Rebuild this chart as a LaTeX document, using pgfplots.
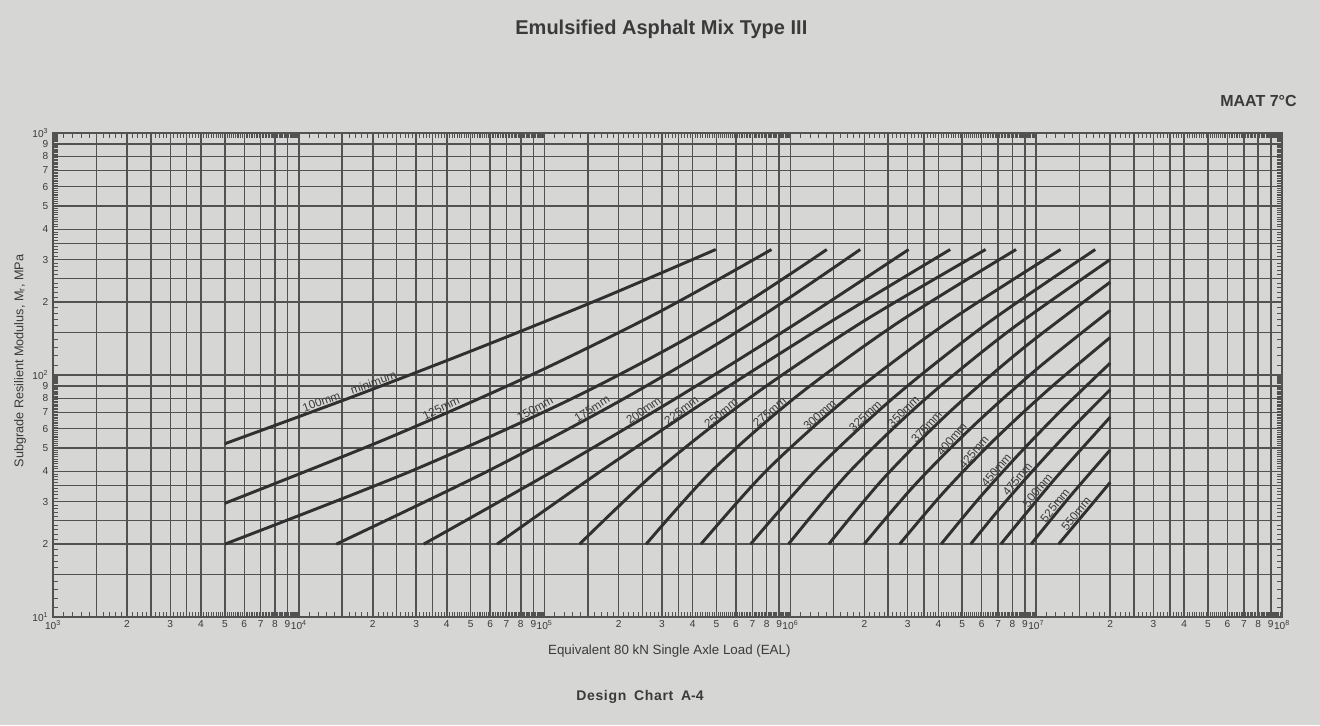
\documentclass[border=0pt]{standalone}
\usepackage{fontspec}
\setmainfont{Liberation Sans}
\usepackage{pgfplots}
\pgfplotsset{compat=1.18}
\definecolor{bg}{RGB}{214,214,212}
\definecolor{ink}{RGB}{58,58,58}
\definecolor{gridc}{RGB}{82,82,82}
\definecolor{curvec}{RGB}{48,48,48}
\tikzset{lab/.style={font=\fontsize{8.8}{9}\selectfont, text=ink, inner sep=1.2pt, anchor=south}}

\def\minorxlist{1e3}
\foreach \k in {2,...,6}{\foreach \m in {11,...,99}{\xdef\minorxlist{\minorxlist,\m e\k}}}
\def\minorylist{10}
\foreach \k in {0,1}{\foreach \m in {11,...,99}{\xdef\minorylist{\minorylist,\m e\k}}}

\begin{document}
\begin{tikzpicture}
\fill[bg] (0,0) rectangle (990pt,543.75pt);
\useasboundingbox (0,0) rectangle (990pt,543.75pt);
\begin{axis}[
  at={(39.75pt,81pt)}, anchor=south west,
  scale only axis, width=921.75pt, height=363pt,
  xmode=log, ymode=log,
  xmin=1e3, xmax=1e8, ymin=10, ymax=1000,
  xtick={1e3,1.5e3,2e3,2.5e3,3e3,3.5e3,4e3,5e3,6e3,7e3,8e3,9e3,
         1e4,1.5e4,2e4,2.5e4,3e4,3.5e4,4e4,5e4,6e4,7e4,8e4,9e4,
         1e5,1.5e5,2e5,2.5e5,3e5,3.5e5,4e5,5e5,6e5,7e5,8e5,9e5,
         1e6,1.5e6,2e6,2.5e6,3e6,3.5e6,4e6,5e6,6e6,7e6,8e6,9e6,
         1e7,1.5e7,2e7,2.5e7,3e7,3.5e7,4e7,5e7,6e7,7e7,8e7,9e7,1e8},
  xticklabels={10\textsuperscript{3},{},2,{},3,{},4,5,6,7,8,9,
               10\textsuperscript{4},{},2,{},3,{},4,5,6,7,8,9,
               10\textsuperscript{5},{},2,{},3,{},4,5,6,7,8,9,
               10\textsuperscript{6},{},2,{},3,{},4,5,6,7,8,9,
               10\textsuperscript{7},{},2,{},3,{},4,5,6,7,8,9,10\textsuperscript{8}},
  ytick={10,15,20,25,30,35,40,50,60,70,80,90,
         100,150,200,250,300,350,400,500,600,700,800,900,1000},
  yticklabels={10\textsuperscript{1},{},2,{},3,{},4,5,6,7,8,9,
               10\textsuperscript{2},{},2,{},3,{},4,5,6,7,8,9,10\textsuperscript{3}},
  minor xtick/.expanded=\minorxlist,
  minor ytick/.expanded=\minorylist,
  xmajorgrids, ymajorgrids,
  major grid style={draw=gridc, line width=1.15pt},
  tick align=inside,
  major tick length=0pt, minor tick length=4pt,
  minor tick style={draw=gridc, line width=0.5pt},
  axis line style={draw=gridc, line width=1.5pt},
  tick label style={font=\fontsize{7.6}{8}\selectfont, text=ink},
  xticklabel style={yshift=1pt},
  curve/.style={draw=curvec, line width=2.2pt, smooth},
]
% 100mm minimum
\addplot[curve] coordinates {(5000,52) (17210,82.5) (55890,131.1) (171500,207.9) (496600,330)};
% 125mm
\addplot[curve] coordinates {(5000,29.5) (22230,54.0) (85770,98.7) (287500,180.5) (837500,330)};
% 150mm
\addplot[curve] coordinates {(5000,20) (29020,40.3) (133500,81.2) (486700,163.8) (1406000,330)};
% 175mm
\addplot[curve] coordinates {(14200,20) (59390,40.3) (216600,81.2) (690600,163.8) (1923000,330)};
% 200mm
\addplot[curve] coordinates {(32200,20) (109200,40.3) (349900,81.2) (1059000,163.8) (3027000,330)};
% 225mm
\addplot[curve] coordinates {(64000,20) (170800,40.3) (480700,81.2) (1427000,163.8) (4467000,330)};
% 250mm
\addplot[curve] coordinates {(138700,20) (287700,40.3) (691800,81.2) (1928000,163.8) (6223000,330)};
% 275mm
\addplot[curve] coordinates {(258800,20) (480800,40.3) (1053000,81.2) (2720000,163.8) (8279000,330)};
% 300mm
\addplot[curve] coordinates {(432500,20) (799800,40.3) (1721000,81.2) (4310000,163.8) (12560000,330)};
% 325mm
\addplot[curve] coordinates {(688700,20) (1264000,40.3) (2651000,81.2) (6349000,163.8) (17380000,330)};
% 350mm
\addplot[curve] coordinates {(981700,20) (1721000,39.4) (3430000,77.4) (7768000,152.4) (20000000,300)};
% 375mm
\addplot[curve] coordinates {(1432000,20) (2387000,37.3) (4391000,69.6) (8918000,129.8) (20000000,242)};
% 400mm
\addplot[curve] coordinates {(1995000,20) (3186000,34.9) (5470000,60.8) (10090000,106.1) (20000000,185)};
% 425mm
\addplot[curve] coordinates {(2780000,20) (4196000,32.7) (6690000,53.5) (11260000,87.4) (20000000,143)};
% 450mm
\addplot[curve] coordinates {(4102000,20) (5831000,30.8) (8535000,47.3) (12870000,72.8) (20000000,112)};
% 475mm
\addplot[curve] coordinates {(5408000,20) (7279000,28.9) (10000000,41.7) (14000000,60.3) (20000000,87)};
% 500mm
\addplot[curve] coordinates {(7178000,20) (11740000,36.6) (20000000,67)};
% 525mm
\addplot[curve] coordinates {(9528000,20) (13650000,31.3) (20000000,49)};
% 550mm
\addplot[curve] coordinates {(12330000,20) (20000000,36)};

\node[lab, rotate=20] at (axis cs:16370,81.0) {100mm\hspace{9pt}minimum};
\node[lab, rotate=25] at (axis cs:38820,69.2) {125mm};
\node[lab, rotate=28] at (axis cs:93760,69.1) {150mm};
\node[lab, rotate=32] at (axis cs:160700,69.1) {175mm};
\node[lab, rotate=35] at (axis cs:261200,68.1) {200mm};
\node[lab, rotate=37] at (axis cs:372400,68.3) {225mm};
\node[lab, rotate=39] at (axis cs:540800,66.7) {250mm};
\node[lab, rotate=41] at (axis cs:853100,67.3) {275mm};
\node[lab, rotate=42] at (axis cs:1365000,65.7) {300mm};
\node[lab, rotate=43] at (axis cs:2094000,65.0) {325mm};
\node[lab, rotate=45] at (axis cs:3000000,67.9) {350mm};
\node[lab, rotate=48] at (axis cs:3733000,58.9) {375mm};
\node[lab, rotate=50] at (axis cs:4732000,52.4) {400mm};
\node[lab, rotate=50] at (axis cs:5821000,46.2) {425mm};
\node[lab, rotate=50] at (axis cs:7178000,38.9) {450mm};
\node[lab, rotate=51] at (axis cs:8750000,35.8) {475mm};
\node[lab, rotate=51] at (axis cs:10570000,32.2) {500mm};
\node[lab, rotate=51] at (axis cs:12450000,27.9) {525mm};
\node[lab, rotate=51] at (axis cs:15170000,25.7) {550mm};
\end{axis}
\node[text=ink, font=\fontsize{15}{18}\selectfont\bfseries] at (496pt,522pt) {Emulsified Asphalt Mix Type III};
\node[text=ink, font=\fontsize{12}{14}\selectfont\bfseries, anchor=east] at (976pt,468pt) {MAAT 7°C};
\node[text=ink, font=\fontsize{10}{12}\selectfont] at (502pt,55.5pt) {Equivalent 80 kN Single Axle Load (EAL)};
\node[text=ink, font=\fontsize{9.5}{11}\selectfont, rotate=90] at (15pt,273pt) {Subgrade Resilient Modulus, M\textsubscript{r}, MPa};
\node[text=ink, font=\fontsize{10.5}{12}\selectfont\bfseries] at (480pt,21pt) {D\kern0.5pt e\kern0.5pt s\kern0.5pt i\kern0.5pt g\kern0.5pt n\ \ C\kern0.5pt h\kern0.5pt a\kern0.5pt r\kern0.5pt t\ \ A-4};
\end{tikzpicture}
\end{document}
